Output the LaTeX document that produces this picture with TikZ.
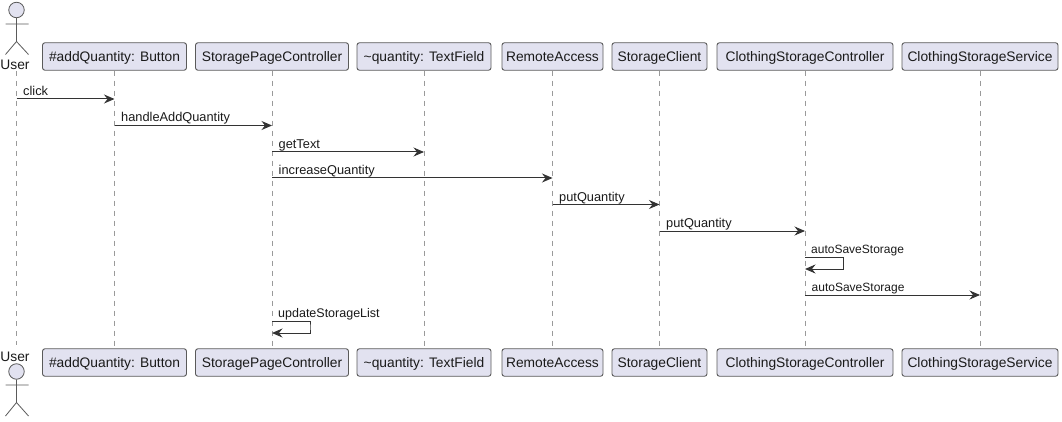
\documentclass[tikz,border=0pt]{standalone}
\usepackage{fontspec}
\setmainfont{Liberation Sans}
\usetikzlibrary{arrows.meta}
\definecolor{pfill}{HTML}{E2E2F0}
\definecolor{pline}{HTML}{5A5A5A}
\definecolor{lline}{HTML}{9A9A9A}
\definecolor{txt}{HTML}{1A1A1A}
\tikzset{
  x=1pt,y=-1pt,
  part/.style={draw=pline,fill=pfill,rounded corners=2.5pt,line width=0.9pt,minimum height=27.5pt,inner sep=0pt,text=txt,font=\fontsize{13.8}{15}\selectfont,text height=10.5pt,text depth=0pt,anchor=center},
  lifeline/.style={draw=lline,dash pattern=on 5pt off 5pt,line width=0.9pt},
  msg/.style={draw=black!80,line width=1pt,-{Stealth[length=10.5pt,width=9pt,inset=3.5pt]}},
  lbl/.style={font=\fontsize{12.8}{14}\selectfont,text=txt,anchor=base west,inner sep=0pt},
  actorname/.style={font=\fontsize{13.8}{15}\selectfont,text=txt,inner sep=0pt,anchor=base},
  stick/.style={draw=pline,line width=0.8pt},
  head/.style={draw=pline,fill=pfill,line width=0.8pt,circle,minimum size=15.5pt,inner sep=0pt}
}
\begin{document}
\begin{tikzpicture}
\useasboundingbox (0,0) rectangle (1062,422);
% participants top
\node[part,minimum width=144pt] (t2) at (114.5,56.5) {\#addQuantity: Button};
\node[part,minimum width=153pt] (t3) at (272,56.5) {StoragePageController};
\node[part,minimum width=134pt] (t4) at (424,56.5) {\textasciitilde quantity: TextField};
\node[part,minimum width=101pt] (t5) at (552.5,56.5) {RemoteAccess};
\node[part,minimum width=95pt] (t6) at (659.5,56.5) {StorageClient};
\node[part,minimum width=176pt] (t7) at (805,56.5) {ClothingStorageController};
\node[part,minimum width=156pt] (t8) at (980,56.5) {ClothingStorageService};
% participants bottom
\node[part,minimum width=144pt] (b2) at (114.5,362.5) {\#addQuantity: Button};
\node[part,minimum width=153pt] (b3) at (272,362.5) {StoragePageController};
\node[part,minimum width=134pt] (b4) at (424,362.5) {\textasciitilde quantity: TextField};
\node[part,minimum width=101pt] (b5) at (552.5,362.5) {RemoteAccess};
\node[part,minimum width=95pt] (b6) at (659.5,362.5) {StorageClient};
\node[part,minimum width=176pt] (b7) at (805,362.5) {ClothingStorageController};
\node[part,minimum width=156pt] (b8) at (980,362.5) {ClothingStorageService};
% actors
\node[actorname] (t1) at (15,69.5) {User};
\node[actorname] (b1) at (15,361.5) {User};
\coordinate (t1b) at (16.5,71);
\coordinate (b1t) at (16.5,345);
\node[head] (h1) at (16.5,10) {};
\draw[stick] (h1.south) -- (16.5,41.5) (5.5,24) -- (28.5,24) (16.5,41.5) -- (5.5,54.5) (16.5,41.5) -- (28.5,54.5);
\node[head] (h2) at (16.5,371.5) {};
\draw[stick] (h2.south) -- (16.5,402.5) (5.5,385) -- (28.5,385) (16.5,402.5) -- (5.5,416) (16.5,402.5) -- (28.5,416);
% lifelines
\draw[lifeline] (t1b) -- (b1t);
\foreach \i in {2,...,8} \draw[lifeline] (t\i.south) -- (b\i.north);
% messages
\foreach \y/\a/\b/\n/\t/\f in {
  99/t1b/t2/m1/click/12.8,
  125.5/t2/t3/m2/handleAddQuantity/12.8,
  152/t3/t4/m3/getText/12.8,
  178/t3/t5/m4/increaseQuantity/12.8,
  204.5/t5/t6/m5/putQuantity/12.8,
  231/t6/t7/m6/putQuantity/12.8,
  295/t7/t8/m7/autoSaveStorage/12}{
  \coordinate (\n) at (0,\y);
  \draw[msg] (\a |- \n) -- (\b |- \n);
  \node[lbl,font=\fontsize{\f}{14}\selectfont] at ([shift={(6.5,-3.5)}]\a |- \n) {\t};
}
% self messages
\coordinate (s1a) at (0,257.5);
\coordinate (s1b) at (0,269);
\draw[msg] (t7 |- s1a) -| (843,263) |- (t7 |- s1b);
\node[lbl,font=\fontsize{12}{14}\selectfont] at ([shift={(6,-4.5)}]t7 |- s1a) {autoSaveStorage};
\coordinate (s2a) at (0,321.5);
\coordinate (s2b) at (0,333);
\draw[msg] (t3 |- s2a) -| (310,327) |- (t3 |- s2b);
\node[lbl,font=\fontsize{12.5}{14}\selectfont] at ([shift={(6,-4)}]t3 |- s2a) {updateStorageList};
\end{tikzpicture}
\end{document}
